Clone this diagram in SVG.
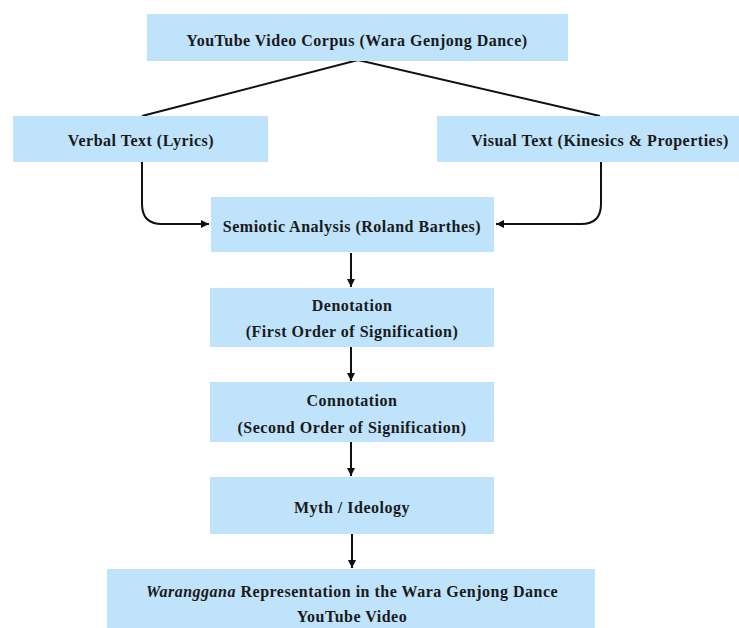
<svg xmlns="http://www.w3.org/2000/svg" width="739" height="628" viewBox="0 0 739 628">
<defs>
<style>
.box{fill:#bfe3fb}
.t{font-family:"Liberation Serif","Times New Roman",serif;font-weight:bold;font-size:16px;letter-spacing:0.5px;fill:#1a1a1a;text-anchor:middle;dominant-baseline:central}
.c{fill:none;stroke:#111;stroke-width:2}
</style>
<marker id="ah" markerWidth="10" markerHeight="10" refX="8" refY="4" orient="auto" markerUnits="userSpaceOnUse">
<path d="M0,0 L8,4 L0,8 Z" fill="#111"/>
</marker>
</defs>
<rect width="739" height="628" fill="#fff"/>
<g id="connectors">
<path class="c" d="M142,116 L358,60 L600,116"/>
<path class="c" d="M142,162 L142,204 Q142,224 162,224 L209,224" marker-end="url(#ah)"/>
<path class="c" d="M601,162 L601,204 Q601,224 581,224 L496,224" marker-end="url(#ah)"/>
<path class="c" d="M351,253 L351,287" marker-end="url(#ah)"/>
<path class="c" d="M351,347 L351,381" marker-end="url(#ah)"/>
<path class="c" d="M351,442 L351,476" marker-end="url(#ah)"/>
<path class="c" d="M352,534 L352,568" marker-end="url(#ah)"/>
</g>
<g id="corpus">
<rect class="box" x="147" y="14" width="421" height="47"/>
<text class="t" x="357" y="40">YouTube Video Corpus (Wara Genjong Dance)</text>
</g>
<g id="verbal">
<rect class="box" x="13" y="116" width="255" height="46"/>
<text class="t" x="141" y="140">Verbal Text (Lyrics)</text>
</g>
<g id="visual">
<rect class="box" x="437" y="116" width="302" height="46"/>
<text class="t" x="600" y="140">Visual Text (Kinesics &amp; Properties)</text>
</g>
<g id="semiotic">
<rect class="box" x="211" y="197" width="283" height="55"/>
<text class="t" x="352" y="226">Semiotic Analysis (Roland Barthes)</text>
</g>
<g id="denotation">
<rect class="box" x="210" y="288" width="284" height="59"/>
<text class="t" x="352" y="305">Denotation</text>
<text class="t" x="352" y="331">(First Order of Signification)</text>
</g>
<g id="connotation">
<rect class="box" x="210" y="382" width="284" height="60"/>
<text class="t" x="352" y="400">Connotation</text>
<text class="t" x="352" y="427">(Second Order of Signification)</text>
</g>
<g id="myth">
<rect class="box" x="210" y="477" width="284" height="57"/>
<text class="t" x="352" y="507">Myth / Ideology</text>
</g>
<g id="representation">
<rect class="box" x="107" y="569" width="488" height="59"/>
<text class="t" x="352" y="591"><tspan font-style="italic">Waranggana</tspan> Representation in the Wara Genjong Dance</text>
<text class="t" x="352" y="616">YouTube Video</text>
</g>
</svg>
